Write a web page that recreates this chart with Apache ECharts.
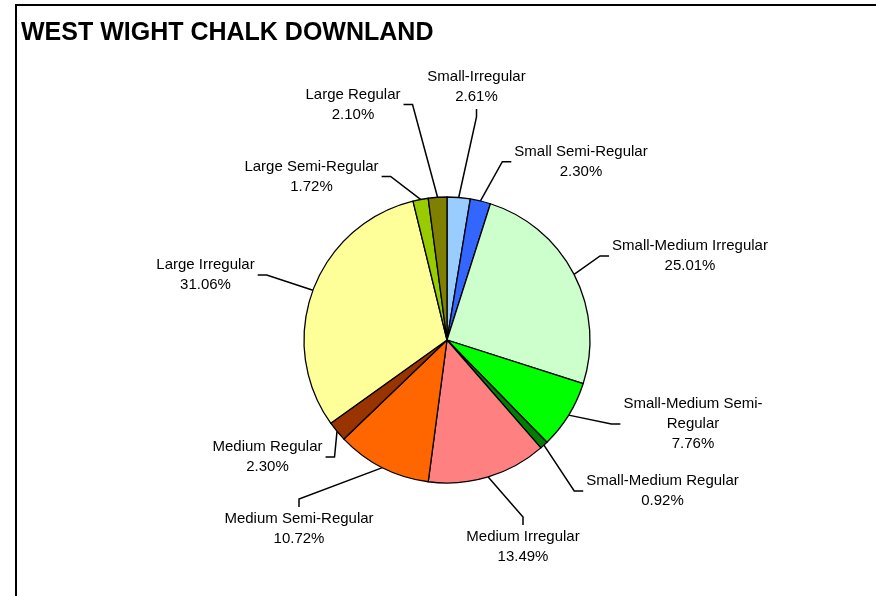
<!DOCTYPE html>
<html>
<head>
<meta charset="utf-8">
<title>West Wight Chalk Downland</title>
<script src="https://cdn.jsdelivr.net/npm/echarts@6/dist/echarts.min.js"></script>
<style>
  html, body { margin: 0; padding: 0; background: #fff; }
  #chart { width: 876px; height: 596px; }
</style>
</head>
<body>
<div id="chart"></div>
<script>
// Field-boundary classes and their share of the downland area (%)
const categories = [
  'Small-Irregular',
  'Small Semi-Regular',
  'Small-Medium Irregular',
  'Small-Medium Semi-Regular',
  'Small-Medium Regular',
  'Medium Irregular',
  'Medium Semi-Regular',
  'Medium Regular',
  'Large Irregular',
  'Large Semi-Regular',
  'Large Regular'
];
const shares = [2.61, 2.30, 25.01, 7.76, 0.92, 13.49, 10.72, 2.30, 31.06, 1.72, 2.10];
const sliceColors = [
  '#99CCFF', '#3366FF', '#CCFFCC', '#00FF00', '#008000',
  '#FF8080', '#FF6600', '#993300', '#FFFF99', '#99CC00', '#808000'
];
const titleText = 'WEST WIGHT CHALK DOWNLAND';

// Where a long category name wraps in its label
const labelBreaks = { 'Small-Medium Semi-Regular': 'Small-Medium Semi-\nRegular' };

// Pie geometry
const PIE_CENTER = [447, 340];
const PIE_RADIUS = 143;

// Label block centres as offsets from the pie centre, plus the side the leader line joins
const labelSpots = [
  { dx: 29.5,   dy: -253,   side: 'bottom' },
  { dx: 134,    dy: -178.3, side: 'left' },
  { dx: 243,    dy: -84,    side: 'left' },
  { dx: 246,    dy: 84,     side: 'left' },
  { dx: 215.5,  dy: 151,    side: 'left' },
  { dx: 76,     dy: 207,    side: 'top' },
  { dx: -148,   dy: 189,    side: 'top' },
  { dx: -179.5, dy: 117,    side: 'right' },
  { dx: -241.5, dy: -65,    side: 'right' },
  { dx: -135.5, dy: -163.5, side: 'right' },
  { dx: -94,    dy: -235.5, side: 'right' }
];
const SIDE_GAP = 3, SIDE_ELBOW = 9, VERT_GAP = 2, VERT_ELBOW = 8;

const FONT = '"Liberation Sans", Arial, sans-serif';

const chart = echarts.init(document.getElementById('chart'), null, { renderer: 'canvas' });

chart.setOption({
  animation: false,
  backgroundColor: '#fff',
  title: {
    text: titleText,
    left: 16,
    top: 16,
    textStyle: { fontFamily: FONT, fontSize: 25, fontWeight: 'bold', color: '#000' }
  },
  graphic: [{
    type: 'rect',
    silent: true,
    shape: { x: 16, y: 5, width: 1000, height: 1000 },
    style: { fill: 'none', stroke: '#000', lineWidth: 2 }
  }],
  series: [{
    type: 'pie',
    center: PIE_CENTER,
    radius: PIE_RADIUS,
    startAngle: 90,
    clockwise: true,
    avoidLabelOverlap: false,
    emphasis: { disabled: true },
    itemStyle: { borderColor: '#000', borderWidth: 1.3 },
    label: {
      show: true,
      position: 'outside',
      fontFamily: FONT,
      fontSize: 15,
      lineHeight: 20,
      color: '#000',
      align: 'center',
      formatter: function (p) {
        const name = labelBreaks[p.name] || p.name;
        return name + '\n' + p.value.toFixed(2) + '%';
      }
    },
    labelLine: {
      show: true,
      length: 10,
      length2: 10,
      smooth: false,
      lineStyle: { color: '#000', width: 1.5 }
    },
    labelLayout: function (p) {
      const spot = labelSpots[p.dataIndex];
      const cx = PIE_CENTER[0] + spot.dx;
      const cy = PIE_CENTER[1] + spot.dy;
      const w = p.labelRect.width, h = p.labelRect.height;
      const edge = p.labelLinePoints ? p.labelLinePoints[0] : [cx, cy];
      let attach, elbow;
      if (spot.side === 'left') {
        attach = [cx - w / 2 - SIDE_GAP, cy];
        elbow = [attach[0] - SIDE_ELBOW, cy];
      } else if (spot.side === 'right') {
        attach = [cx + w / 2 + SIDE_GAP, cy];
        elbow = [attach[0] + SIDE_ELBOW, cy];
      } else if (spot.side === 'top') {
        attach = [cx, cy - h / 2 - VERT_GAP];
        elbow = [cx, attach[1] - VERT_ELBOW];
      } else {
        attach = [cx, cy + h / 2 + VERT_GAP];
        elbow = [cx, attach[1] + VERT_ELBOW];
      }
      return {
        x: cx,
        y: cy,
        align: 'center',
        verticalAlign: 'middle',
        labelLinePoints: [edge, elbow, attach]
      };
    },
    data: categories.map(function (name, i) {
      return { name: name, value: shares[i], itemStyle: { color: sliceColors[i] } };
    })
  }]
});
</script>
</body>
</html>
